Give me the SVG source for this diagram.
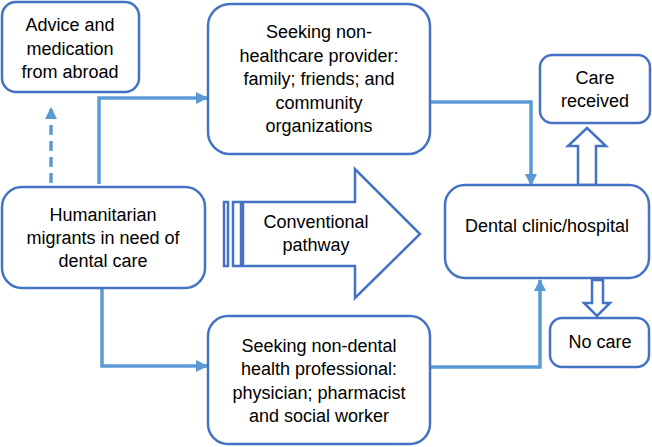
<svg xmlns="http://www.w3.org/2000/svg" width="652" height="447" viewBox="0 0 652 447">
<style>
.box{fill:#fff;stroke:#4472C4;stroke-width:2.5}
.blk{fill:#fff;stroke:#4472C4;stroke-width:2.5;stroke-linejoin:miter}
.con{fill:none;stroke:#5B9BD5;stroke-width:3.5}
.dash{stroke-dasharray:10 6}
text{font-family:"Liberation Sans",Arial,sans-serif;font-size:18px;fill:#000;text-anchor:middle}
</style>
<defs>
<marker id="ah" markerUnits="userSpaceOnUse" markerWidth="12" markerHeight="12" viewBox="0 0 12 12" refX="11" refY="6" orient="auto">
<path d="M0,0 L12,6 L0,12 Z" fill="#5B9BD5"/>
</marker>
</defs>
<g id="connectors">
<path class="con dash" d="M51,183 V108" marker-end="url(#ah)"/>
<path class="con" d="M99,184 V98 H207" marker-end="url(#ah)"/>
<path class="con" d="M102,288 V366 H207" marker-end="url(#ah)"/>
<path class="con" d="M430,102 H531 V185" marker-end="url(#ah)"/>
<path class="con" d="M430,367 H540 V280" marker-end="url(#ah)"/>
<polygon class="blk" points="578,185 578,146 568,146 587,128 606,146 596,146 596,185"/>
<polygon class="blk" points="592,280 592,303 584,303 597,316 610,303 603,303 603,280"/>
</g>
<g id="advice">
<rect class="box" x="2" y="2" width="137" height="90" rx="14"/>
<text x="70" y="31">Advice and</text>
<text x="70" y="55">medication</text>
<text x="70" y="78">from abroad</text>
</g>
<g id="nonhealthcare">
<rect class="box" x="208" y="4" width="222" height="150" rx="22"/>
<text x="319" y="38">Seeking non-</text>
<text x="319" y="62">healthcare provider:</text>
<text x="319" y="85">family; friends; and</text>
<text x="319" y="109">community</text>
<text x="319" y="132">organizations</text>
</g>
<g id="carereceived">
<rect class="box" x="540" y="55" width="110" height="68" rx="12"/>
<text x="595" y="84">Care</text>
<text x="595" y="107">received</text>
</g>
<g id="humanitarian">
<rect class="box" x="2" y="187" width="203" height="101" rx="20"/>
<text x="103" y="221">Humanitarian</text>
<text x="103" y="244">migrants in need of</text>
<text x="103" y="267">dental care</text>
</g>
<g id="conventional">
<rect class="blk" x="224" y="202" width="4" height="64"/>
<rect class="blk" x="233" y="202" width="8" height="64"/>
<polygon class="blk" points="243,202 355,202 355,169 420,234 355,298 355,266 243,266"/>
<text x="316" y="228">Conventional</text>
<text x="316" y="251">pathway</text>
</g>
<g id="clinic">
<rect class="box" x="445" y="185" width="204" height="93" rx="20"/>
<text x="547" y="232">Dental clinic/hospital</text>
</g>
<g id="nocare">
<rect class="box" x="550" y="318" width="99" height="49" rx="12"/>
<text x="600" y="348">No care</text>
</g>
<g id="nondental">
<rect class="box" x="208" y="316" width="222" height="128" rx="20"/>
<text x="319" y="352">Seeking non-dental</text>
<text x="319" y="375">health professional:</text>
<text x="319" y="399">physician; pharmacist</text>
<text x="319" y="422">and social worker</text>
</g>
</svg>
